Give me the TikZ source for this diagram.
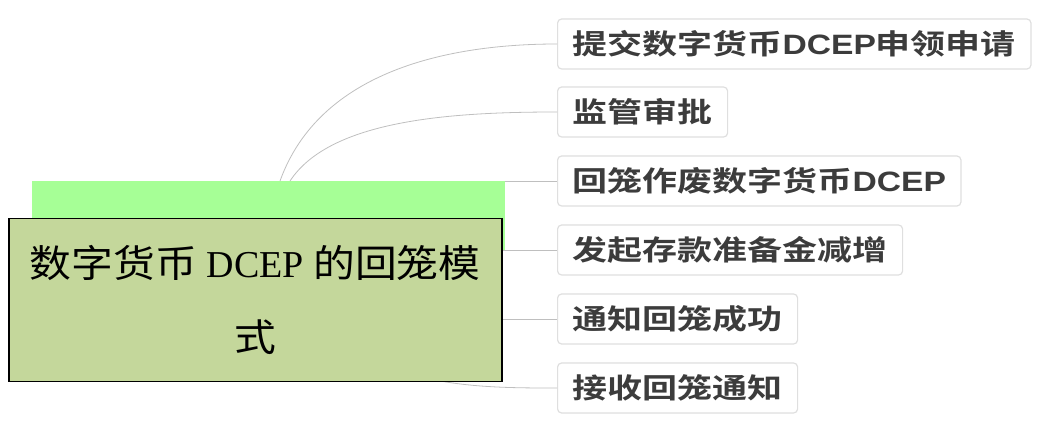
\documentclass[tikz,border=0pt]{standalone}
\usepackage{fontspec}
\setmainfont{Liberation Serif}
\newfontfamily\cjkserif[FakeStretch=1.1]{Noto Sans CJK SC}
\newfontfamily\cjkbold[FakeStretch=1.25]{Noto Sans CJK SC Bold}
\newfontfamily\latinbold[FakeStretch=1.2]{Liberation Sans Bold}
\usetikzlibrary{positioning}
\definecolor{leafgray}{RGB}{60,60,60}
\definecolor{rootgreen}{RGB}{196,215,155}
\definecolor{bandgreen}{RGB}{166,255,150}
\tikzset{
  x=1pt, y=-1pt,
  leaf/.style={draw=gray!25, line width=1.2pt, rounded corners=4pt, fill=white,
    anchor=west, minimum height=50pt, inner xsep=15pt,
    font=\cjkbold\fontsize{28}{28}\selectfont, text=leafgray},
  link/.style={draw=gray!50, line width=0.8pt}
}
\begin{document}
\begin{tikzpicture}
  \useasboundingbox (0,0) rectangle (1052,427);
  % connectors behind everything
  \coordinate (r1) at (280,181);
  \coordinate (r2) at (290,181);
  \coordinate (r3) at (505,181);
  \coordinate (r4) at (501,250);
  \coordinate (r5) at (501,319);
  \coordinate (r6) at (440,381);
  \node[leaf] (l1) at (557,44) {提交数字货币{\latinbold DCEP}申领申请};
  \node[leaf] (l2) at (557,112) {监管审批};
  \node[leaf] (l3) at (557,181) {回笼作废数字货币{\latinbold DCEP}};
  \node[leaf] (l4) at (557,250) {发起存款准备金减增};
  \node[leaf] (l5) at (557,319) {通知回笼成功};
  \node[leaf] (l6) at (557,388) {接收回笼通知};
  \draw[link] (r1) .. controls (320,70) and (450,44) .. (l1.west);
  \draw[link] (r2) .. controls (330,120) and (450,112) .. (l2.west);
  \draw[link] (r3) -- (l3.west);
  \draw[link] (r4) -- (l4.west);
  \draw[link] (r5) -- (l5.west);
  \draw[link] (r6) .. controls (480,388) and (520,388) .. (l6.west);
  % root
  \fill[bandgreen] (32,181) rectangle (505,250);
  \node[draw=black, line width=1.5pt, fill=rootgreen, minimum width=493pt,
    minimum height=163pt, anchor=north west, align=center, inner sep=0pt,
    font=\fontsize{38}{82}\selectfont] (root) at (8,218)
    {\raisebox{-8pt}{{\cjkserif 数字货币} DCEP {\cjkserif 的回笼模}}\\{\cjkserif 式}};
\end{tikzpicture}
\end{document}
